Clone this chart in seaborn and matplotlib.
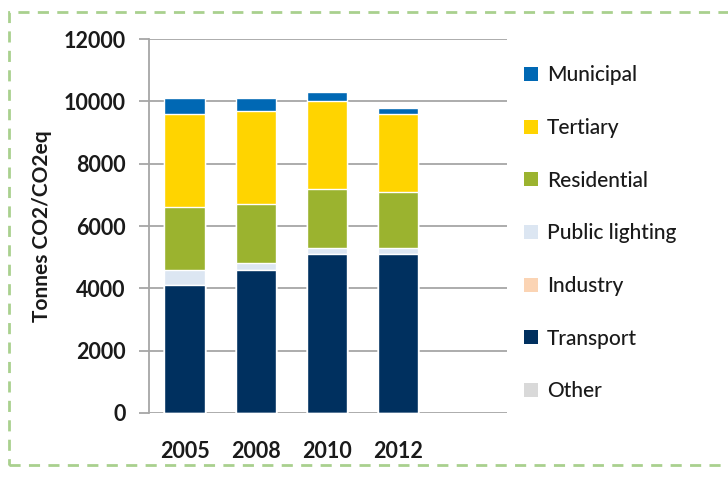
import matplotlib
matplotlib.use("Agg")
import matplotlib.pyplot as plt
from matplotlib.patches import Patch, Rectangle
import seaborn as sns
import numpy as np

sns.set_theme(style="white")
plt.rcParams["font.family"] = ["Lato", "DejaVu Sans"]

# Tonnes CO2/CO2eq per sector
years = ["2005", "2008", "2010", "2012"]
other = [0, 0, 0, 0]
transport = [4100, 4600, 5100, 5100]
industry = [0, 0, 0, 0]
public_lighting = [500, 200, 200, 200]
residential = [2000, 1900, 1900, 1800]
tertiary = [3000, 3000, 2800, 2500]
municipal = [500, 400, 300, 200]

# bottom -> top stacking order
sectors = ["Other", "Transport", "Industry", "Public lighting", "Residential", "Tertiary", "Municipal"]
values = [other, transport, industry, public_lighting, residential, tertiary, municipal]
colors = ["#d9d9d9", "#00305f", "#fbd4b4", "#dce6f2", "#9bb32f", "#ffd400", "#0068b4"]

fig = plt.figure(figsize=(7.28, 4.84), dpi=100)
ax = fig.add_axes([0.2047, 0.1467, 0.4918, 0.7727])

cum = np.cumsum(np.array(values), axis=0)
# draw tallest cumulative first, then overlay lower sectors
for i in range(len(sectors) - 1, -1, -1):
    sns.barplot(x=years, y=cum[i], color=colors[i], saturation=1, width=0.565, ax=ax, zorder=3)

ax.set_ylim(0, 12000)
ax.set_yticks(range(0, 12001, 2000))
ax.set_xlim(-0.5, 4.54)
ax.yaxis.grid(True, color="#a6a6a6", linewidth=1.3, zorder=0)
ax.set_axisbelow(True)
for s in ["top", "right", "bottom"]:
    ax.spines[s].set_visible(False)
ax.spines["left"].set_color("#a6a6a6")
ax.spines["left"].set_linewidth(1.3)
ax.tick_params(axis="y", which="major", left=True, length=7, width=1.3, color="#a6a6a6",
               pad=10, labelsize=15.5, labelcolor="#1a1a1a")
ax.tick_params(axis="x", bottom=False, pad=14, labelsize=15.5, labelcolor="#1a1a1a")
for lab in ax.get_xticklabels() + ax.get_yticklabels():
    lab.set_fontweight("bold")
ax.set_ylabel("Tonnes CO2/CO2eq", fontsize=15, fontweight="bold", color="#1a1a1a", labelpad=8)
ax.set_xlabel("")

handles = [Patch(facecolor=colors[i], edgecolor="none", label=sectors[i]) for i in range(len(sectors) - 1, -1, -1)]
fig.legend(handles=handles, loc="upper left", bbox_to_anchor=(0.694, 0.904), frameon=False,
           fontsize=15, handlelength=0.65, handleheight=0.65, handletextpad=0.45,
           labelspacing=1.57, labelcolor="#1a1a1a", prop={"size": 15, "weight": "medium"})

# dashed green border around the chart
fig.patches.append(Rectangle((0.012, 0.04), 1.2, 0.935, transform=fig.transFigure, fill=False,
                             edgecolor="#a9d08e", linestyle=(0, (4, 3)), linewidth=2))

fig.savefig("out.png", dpi=100)
